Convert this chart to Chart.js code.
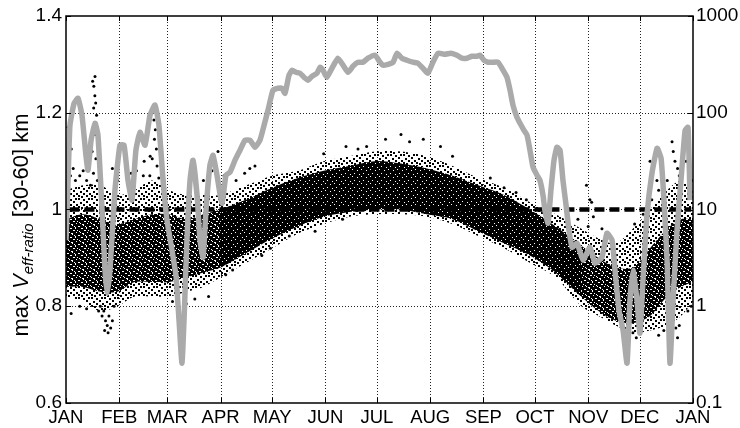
<!DOCTYPE html>
<html><head><meta charset="utf-8">
<script src="https://cdn.jsdelivr.net/npm/chart.js@4.4.1/dist/chart.umd.min.js"></script>
<style>html,body{margin:0;padding:0;background:#fff}#wrap{width:740px;height:428px;position:relative}</style>
</head><body><div id="wrap"><canvas id="c" width="740" height="428"></canvas></div>
<script>
// ---------- data ----------
const monthLabels = ['JAN','FEB','MAR','APR','MAY','JUN','JUL','AUG','SEP','OCT','NOV','DEC','JAN'];
const monthDays = [0,31,59,90,120,151,181,212,243,273,304,334,365];
const leftTicks = [0.6,0.8,1.0,1.2,1.4];
const rightTicks = [0.1,1,10,100,1000];
const refLevel = 1.0;

// grey curve (right, log axis)
const grayDays = [0,1.2,2.3,4.7,7.0,9.3,11.6,12.8,14.6,16.9,18.6,21.0,22.7,23.9,25.6,28.5,31.4,33.8,36.1,38.4,40.7,43.1,46.0,48.9,51.8,54.1,56.5,58.8,61.7,64.0,65.8,67.5,68.7,70.4,72.2,73.9,76.3,78.0,79.8,81.5,83.8,85.6,87.9,90.8,93.1,95.5,98.4,101.3,104.2,107.1,110.0,112.9,115.3,117.6,120.5,123.4,125.7,127.5,129.8,131.6,133.9,136.2,138.5,140.9,143.2,146.1,147.9,149.6,151.9,154.8,158.3,161.3,164.2,167.1,170.0,172.9,175.8,179.9,182.8,184.5,187.4,190.4,192.7,195.6,198.5,202.0,204.9,207.8,210.7,213.6,216.6,220.6,224.1,227.6,230.5,233.4,236.3,239.3,241.0,243.3,245.7,248.6,251.5,253.8,256.7,258.5,260.2,262.5,264.3,266.6,268.4,270.1,271.9,274.2,275.9,277.7,278.8,280.6,282.3,284.1,285.8,287.6,289.3,291.1,292.8,294.6,297.5,301.0,305.0,308.0,312.0,314.9,317.9,319.6,321.9,324.3,326.6,328.3,330.1,332.4,334.1,335.9,338.2,341.1,344.1,346.4,348.1,349.9,351.6,353.4,355.7,358.0,360.4,362.1,363.3];
const grayValues = [4.81,20.0,74.3,125,141,94.2,36.4,25.5,52.0,77.9,58.5,9.83,2.36,1.36,2.36,15.8,46.1,46.1,20.0,12.5,41.0,62.9,46.1,94.2,120,74.3,20.0,7.74,3.79,2.09,0.716,0.258,0.716,4.81,20.0,32.3,14.0,4.81,3.21,9.83,28.7,36.4,22.6,11.6,22.6,24.3,32.3,41.0,52.0,52.0,44.0,52.0,74.3,106,171,179,179,159,244,275,262,256,233,217,238,256,295,275,233,288,366,310,262,303,333,333,366,393,333,310,317,333,412,366,349,333,325,288,256,333,412,402,412,393,366,366,384,384,393,349,333,333,333,288,233,171,120,89.8,77.9,65.9,58.5,41.0,27.3,22.6,20.0,14.0,9.83,7.21,15.8,32.3,44.0,41.0,20.0,11.1,6.10,4.07,4.48,2.99,4.07,2.78,3.21,5.68,4.81,2.36,0.909,0.565,0.258,1.15,2.36,1.15,0.526,1.86,8.73,23.7,43.0,33.9,12.5,2.99,0.258,1.15,6.10,20.0,65.9,70.8,12.5];

// scatter cloud envelopes (left axis)
const bandDays = [0,10,20,30,40,50,60,70,80,90,105,120,135,150,165,180,195,210,225,240,255,270,285,300,310,320,330,340,350,358,365];
const outerHi = [1.04,1.05,1.05,1.03,1.04,1.06,1.04,1.03,1.03,1.03,1.05,1.07,1.08,1.10,1.11,1.12,1.12,1.11,1.09,1.065,1.045,1.015,0.99,0.96,0.94,0.93,0.96,1.00,1.04,1.06,1.04];
const outerLo = [0.82,0.81,0.79,0.80,0.82,0.82,0.82,0.83,0.84,0.86,0.89,0.92,0.95,0.97,0.985,0.99,0.99,0.985,0.97,0.945,0.92,0.89,0.86,0.80,0.78,0.76,0.745,0.75,0.76,0.78,0.81];
const coreHi = [0.98,0.99,0.98,0.97,0.98,0.99,0.99,0.98,0.99,1.0,1.02,1.045,1.065,1.08,1.09,1.10,1.095,1.085,1.07,1.05,1.03,1.0,0.965,0.925,0.90,0.88,0.88,0.92,0.96,0.98,0.98];
const coreLo = [0.84,0.84,0.83,0.83,0.85,0.85,0.85,0.86,0.87,0.88,0.91,0.94,0.965,0.985,0.995,1.0,1.0,0.99,0.98,0.955,0.93,0.905,0.87,0.82,0.79,0.77,0.765,0.78,0.82,0.84,0.85];

// isolated dots outside the dense cloud
const outlierDays = [16.9,15.5,16.2,16.8,17.3,16.1,17.8,16.6,18.2,17.1,18.6,15.2,17.4,19.1,16.0,18.3,14.2,19.6,1.2,2.0,3.1,1.8,4.2,2.6,5.5,8,10,12,50.5,51.2,52.0,51.5,52.6,50.2,53.0,48.8,54,45,41,38,57,27,45.5,49,30,88.5,85,80,92,20,21,22,23,24,25,26,27,22.5,24.5,28,19,3,8,12,62,70,75,83,99,104,107,110,97,93,119,114,163,175,195,200,218,186,208,225,170,150,161,145,130,255,247,262,268,280,303,305,306,307,304,298,312,340,342,344,345,341,352.8,353.5,354.5,356,357,350,336,331,328,330,332,334,353,355,356,357,345,348,362,364,361,363,364.5];
const outlierValues = [1.275,1.265,1.255,1.235,1.22,1.21,1.195,1.18,1.17,1.155,1.135,1.12,1.105,1.09,1.075,1.06,1.05,1.05,1.17,1.15,1.125,1.10,1.085,1.07,1.06,1.07,1.08,1.06,1.205,1.185,1.165,1.145,1.125,1.105,1.09,1.07,1.065,1.07,1.08,1.075,1.06,1.085,1.10,1.11,1.06,1.12,1.08,1.06,1.07,0.80,0.78,0.79,0.77,0.76,0.78,0.755,0.77,0.75,0.745,0.80,0.79,0.785,0.80,0.795,0.81,0.805,0.815,0.82,1.06,1.075,1.085,1.09,0.875,0.865,0.92,0.905,1.13,1.13,1.155,1.14,1.13,1.145,1.145,1.11,1.125,1.115,0.98,0.955,0.945,1.045,1.065,1.035,1.02,1.005,1.05,1.02,1.015,0.985,0.965,0.98,0.96,1.10,1.08,1.06,1.04,1.02,1.14,1.12,1.10,1.085,1.07,1.06,0.99,0.97,0.765,0.745,0.735,0.75,0.78,0.755,0.735,0.76,0.74,0.75,0.79,0.80,1.10,1.08,1.06];

// ---------- helpers ----------
const FONT = "'Liberation Sans', Arial, Helvetica, sans-serif";
// texture tiles (style only): list of [x,y,w,h] marks
function pattern(w, h, base, mark, cells) {
  const c = document.createElement('canvas'); c.width = w; c.height = h;
  const g = c.getContext('2d');
  if (base) { g.fillStyle = base; g.fillRect(0,0,w,h); }
  g.fillStyle = mark;
  cells.forEach(([x,y,cw,ch]) => g.fillRect(x,y,cw,ch));
  return document.getElementById('c').getContext('2d').createPattern(c,'repeat');
}
const outerPat = pattern(13, 11, null, '#000',
  [[0,0,2,2],[5,1,2,2],[10,0,2,2],[2,4,2,2],[8,3,2,2],[11,6,2,2],[5,6,2,2],[0,8,2,2],[8,8,2,2],[3,9,2,2]]);
const winterPat = pattern(11, 9, '#000', '#fff',
  [[1,1,2,1],[6,0,1,1],[9,2,1,2],[4,3,2,1],[0,5,1,1],[7,5,2,1],[3,7,1,1],[10,7,1,1],[5,8,2,1],[8,1,1,1],[2,6,1,1]]);
const summerPat = pattern(9, 7, '#000', '#fff',
  [[1,1,1,1],[6,2,1,1],[3,5,1,1],[8,6,1,1]]);

function band(arr, d0, d1) {
  const out = [];
  bandDays.forEach((d,i) => { if (d >= d0 && d <= d1) out.push({x:d, y:arr[i]}); });
  return out;
}
function bandPair(lo, hi, d0, d1, fillStyle, order) {
  return [
    {data: band(hi,d0,d1), fill:'+1', backgroundColor: fillStyle, borderColor:'rgba(0,0,0,0)', borderWidth:0, pointRadius:0, tension:0.3, order, yAxisID:'y'},
    {data: band(lo,d0,d1), fill:false, borderColor:'rgba(0,0,0,0)', borderWidth:0, pointRadius:0, tension:0.3, order, yAxisID:'y'}
  ];
}

const datasets = [
  {data: grayDays.map((d,i)=>({x:d,y:grayValues[i]})), yAxisID:'y2', borderColor:'#aaaaaa', borderWidth:5.5, pointRadius:0, fill:false, tension:0.15, borderJoinStyle:'round', order:0},
  {data: [{x:2,y:refLevel},{x:364,y:refLevel}], yAxisID:'y', borderColor:'#000', borderWidth:4.5, borderDash:[10,5], pointRadius:0, fill:false, order:1},
  {data: outlierDays.map((d,i)=>({x:d,y:outlierValues[i]})), yAxisID:'y', showLine:false, pointRadius:1.5, pointBorderWidth:0, pointBackgroundColor:'#000', order:2},
  ...bandPair(coreLo, coreHi, 90, 300, summerPat, 3),
  ...bandPair(coreLo, coreHi, 0, 105, winterPat, 4),
  ...bandPair(coreLo, coreHi, 285, 365, winterPat, 4),
  ...bandPair(outerLo, outerHi, 0, 365, outerPat, 5)
];

// ---------- plugins ----------
const frame = {
  id:'frame',
  beforeDatasetsDraw(chart) {
    const {ctx, chartArea:a, scales} = chart;
    ctx.save();
    ctx.strokeStyle = '#222'; ctx.lineWidth = 1; ctx.setLineDash([1,2]);
    monthDays.slice(1,-1).forEach(d => {
      const x = Math.round(scales.x.getPixelForValue(d)) + 0.5;
      ctx.beginPath(); ctx.moveTo(x,a.top); ctx.lineTo(x,a.bottom); ctx.stroke();
    });
    leftTicks.slice(1,-1).forEach(v => {
      const y = Math.round(scales.y.getPixelForValue(v)) + 0.5;
      ctx.beginPath(); ctx.moveTo(a.left,y); ctx.lineTo(a.right,y); ctx.stroke();
    });
    ctx.restore();
  },
  afterDatasetsDraw(chart) {
    const {ctx, chartArea:a, scales} = chart;
    ctx.save();
    ctx.strokeStyle = '#000'; ctx.lineWidth = 1.5; ctx.setLineDash([]);
    ctx.strokeRect(a.left, a.top, a.right-a.left, a.bottom-a.top);
    ctx.lineWidth = 1;
    const t = 5;
    monthDays.forEach(d => {
      const x = Math.round(scales.x.getPixelForValue(d)) + 0.5;
      ctx.beginPath(); ctx.moveTo(x,a.bottom); ctx.lineTo(x,a.bottom-t); ctx.moveTo(x,a.top); ctx.lineTo(x,a.top+t); ctx.stroke();
    });
    leftTicks.forEach(v => {
      const y = Math.round(scales.y.getPixelForValue(v)) + 0.5;
      ctx.beginPath(); ctx.moveTo(a.left,y); ctx.lineTo(a.left+t,y); ctx.stroke();
    });
    rightTicks.forEach(v => {
      const y = Math.round(scales.y2.getPixelForValue(v)) + 0.5;
      ctx.beginPath(); ctx.moveTo(a.right,y); ctx.lineTo(a.right-t,y); ctx.stroke();
    });
    // y axis title with subscript
    const parts = [
      {t:'max ', f:'22px '+FONT, dy:0},
      {t:'V', f:'italic 22px '+FONT, dy:0},
      {t:'eff-ratio', f:'italic 15px '+FONT, dy:5},
      {t:' [30-60] km', f:'22px '+FONT, dy:0}
    ];
    let total = 0;
    parts.forEach(p => { ctx.font = p.f; p.w = ctx.measureText(p.t).width; total += p.w; });
    ctx.translate(20, 225); ctx.rotate(-Math.PI/2);
    ctx.fillStyle = '#000'; ctx.textBaseline = 'alphabetic'; ctx.textAlign = 'left';
    let x = -total/2;
    parts.forEach(p => { ctx.font = p.f; ctx.fillText(p.t, x, 8 + p.dy); x += p.w; });
    ctx.restore();
  }
};

new Chart(document.getElementById('c'), {
  type:'line',
  data:{datasets},
  options:{
    responsive:false, animation:false, devicePixelRatio:1,
    layout:{padding:{top:16,left:0,right:0,bottom:0}},
    plugins:{legend:{display:false}, tooltip:{enabled:false}},
    scales:{
      x:{type:'linear', min:0, max:365,
        afterBuildTicks: s => { s.ticks = monthDays.map(v=>({value:v})); },
        afterFit: s => { s.height = 25; },
        ticks:{autoSkip:false, maxRotation:0, padding:4, color:'#000', font:{family:FONT, size:18.5},
          callback:(v)=>monthLabels[monthDays.indexOf(v)]},
        grid:{display:false, drawTicks:false}, border:{display:false}},
      y:{type:'linear', position:'left', min:0.6, max:1.4,
        afterBuildTicks: s => { s.ticks = leftTicks.map(v=>({value:v})); },
        afterFit: s => { s.width = 66; },
        ticks:{padding:4, color:'#000', font:{family:FONT, size:19}, callback:v=>String(Math.round(v*10)/10)},
        grid:{display:false, drawTicks:false}, border:{display:false}},
      y2:{type:'logarithmic', position:'right', min:0.1, max:1000,
        afterBuildTicks: s => { s.ticks = rightTicks.map(v=>({value:v})); },
        afterFit: s => { s.width = 47; },
        ticks:{padding:3, color:'#000', font:{family:FONT, size:19}, callback:v=>String(v)},
        grid:{display:false, drawTicks:false}, border:{display:false}}
    }
  },
  plugins:[frame]
});
</script></body></html>
